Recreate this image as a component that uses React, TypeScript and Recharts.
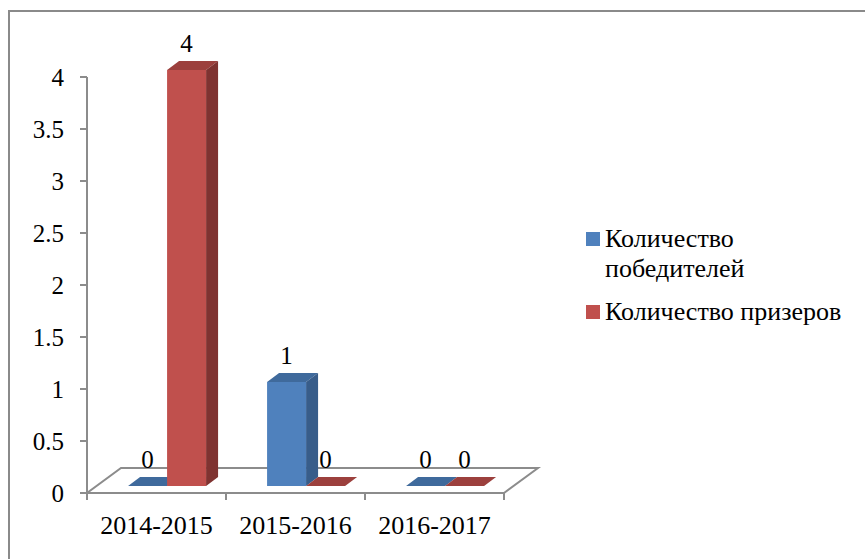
import React from "react";
import { BarChart, Bar, XAxis, YAxis, LabelList, Legend } from "recharts";

const seasons = ["2014-2015", "2015-2016", "2016-2017"];
const winners = [0, 1, 0];
const prizeWinners = [4, 0, 0];
const yTicks = [0, 0.5, 1, 1.5, 2, 2.5, 3, 3.5, 4];

const seriesNames = ["Количество победителей", "Количество призеров"];

const data = seasons.map((season, i) => ({
  season,
  winners: winners[i],
  prizeWinners: prizeWinners[i],
}));

const W = 865;
const H = 559;
const FONT = "Liberation Serif, Tinos, Times New Roman, Nimbus Roman, DejaVu Serif, serif";

// plot area (front plane of the 3D box)
const MARGIN = { top: 77, right: 361, bottom: 0, left: 27 };
const Y_AXIS_W = 60;
const X_AXIS_H = 66;
const PLOT_LEFT = MARGIN.left + Y_AXIS_W;
const PLOT_RIGHT = W - MARGIN.right;
const PLOT_BOTTOM = H - MARGIN.bottom - X_AXIS_H;

// perspective offsets
const FLOOR_DEPTH = { dx: 34, dy: -25 };
const BAR_SHIFT = { dx: 10.5, dy: -7 };
const BAR_DEPTH = { dx: 12, dy: -9 };

const BLUE = { front: "#4F81BD", side: "#385D8A", top: "#3F6A9C" };
const RED = { front: "#C0504D", side: "#7F3331", top: "#9C403D" };

const AXIS_GRAY = "#8c8c8c";

const makeColumn = (c: typeof BLUE) => (props: any) => {
  const { x, y, width, height } = props;
  const fx = x + BAR_SHIFT.dx;
  const fy = y + BAR_SHIFT.dy;
  const w = width;
  const h = Math.max(0, height);
  const { dx, dy } = BAR_DEPTH;
  return (
    <g>
      <polygon
        points={`${fx},${fy} ${fx + dx},${fy + dy} ${fx + w + dx},${fy + dy} ${fx + w},${fy}`}
        fill={c.top}
      />
      {h > 0 && (
        <polygon
          points={`${fx + w},${fy} ${fx + w + dx},${fy + dy} ${fx + w + dx},${fy + h + dy} ${fx + w},${fy + h}`}
          fill={c.side}
        />
      )}
      {h > 0 && <rect x={fx} y={fy} width={w} height={h} fill={c.front} />}
    </g>
  );
};

const ValueLabel = (props: any) => {
  const vb = props.viewBox ?? props;
  const { x, y, width } = vb;
  return (
    <text
      x={x + width / 2 + BAR_SHIFT.dx}
      y={y + BAR_SHIFT.dy - 18}
      textAnchor="middle"
      style={{ fontFamily: FONT }}
      fontSize={25}
      fill="#000"
    >
      {props.value}
    </text>
  );
};

// floor of the 3D box with category boundary ticks
const Floor = () => {
  const step = (PLOT_RIGHT - PLOT_LEFT) / seasons.length;
  const { dx, dy } = FLOOR_DEPTH;
  const b = PLOT_BOTTOM;
  return (
    <svg width={W} height={H} style={{ position: "absolute", left: 0, top: 0 }}>
      <polygon
        points={`${PLOT_LEFT},${b} ${PLOT_RIGHT},${b} ${PLOT_RIGHT + dx},${b + dy} ${PLOT_LEFT + dx},${b + dy}`}
        fill="#fff"
        stroke={AXIS_GRAY}
        strokeWidth={2}
      />
      {Array.from({ length: seasons.length + 1 }, (_, i) => (
        <line
          key={i}
          x1={PLOT_LEFT + i * step}
          x2={PLOT_LEFT + i * step}
          y1={b}
          y2={b + 7}
          stroke={AXIS_GRAY}
          strokeWidth={2}
        />
      ))}
    </svg>
  );
};

const LegendBox = () => (
  <div style={{ fontFamily: FONT, fontSize: 26, color: "#000", width: 275 }}>
    {seriesNames.map((name, i) => (
      <div key={name} style={{ display: "flex", alignItems: "flex-start", marginBottom: i === 0 ? 13 : 0 }}>
        <div
          style={{
            width: 14,
            height: 14,
            marginTop: 8,
            marginRight: 5,
            flex: "none",
            background: i === 0 ? BLUE.front : RED.front,
          }}
        />
        <div style={{ lineHeight: "30px", width: 250 }}>{name}</div>
      </div>
    ))}
  </div>
);

export default function App() {
  return (
    <div
      style={{
        position: "absolute",
        left: 0,
        top: 0,
        width: W,
        height: H,
        overflow: "hidden",
        background: "#fff",
        fontFamily: FONT,
      }}
    >
      <div
        style={{
          position: "absolute",
          left: 8,
          top: 10,
          width: W + 40,
          height: H + 40,
          border: "2px solid #8a8a8a",
        }}
      />
      <Floor />
      <div style={{ position: "absolute", left: 0, top: 0 }}>
        <BarChart
          width={W}
          height={H}
          data={data}
          margin={MARGIN}
          barCategoryGap="22%"
          barGap={0}
          style={{ fontFamily: FONT }}
        >
          <XAxis
            dataKey="season"
            height={X_AXIS_H}
            axisLine={false}
            tickLine={false}
            tickSize={0}
            tickMargin={23}
            tick={{ fill: "#000", fontSize: 26, style: { fontFamily: FONT } }}
          />
          <YAxis
            width={Y_AXIS_W}
            domain={[0, 4]}
            ticks={yTicks}
            interval={0}
            tickSize={7}
            tickMargin={16}
            axisLine={{ stroke: AXIS_GRAY, strokeWidth: 2 }}
            tickLine={{ stroke: AXIS_GRAY, strokeWidth: 2 }}
            tick={{ fill: "#000", fontSize: 25, style: { fontFamily: FONT } }}
          />
          <Legend
            layout="horizontal"
            align="center"
            verticalAlign="middle"
            wrapperStyle={{ left: 586, top: 224, width: 280 }}
            content={() => <LegendBox />}
          />
          <Bar
            dataKey="winners"
            name={seriesNames[0]}
            fill={BLUE.front}
            shape={makeColumn(BLUE)}
            isAnimationActive={false}
          >
            <LabelList dataKey="winners" content={ValueLabel} />
          </Bar>
          <Bar
            dataKey="prizeWinners"
            name={seriesNames[1]}
            fill={RED.front}
            shape={makeColumn(RED)}
            isAnimationActive={false}
          >
            <LabelList dataKey="prizeWinners" content={ValueLabel} />
          </Bar>
        </BarChart>
      </div>
    </div>
  );
}
